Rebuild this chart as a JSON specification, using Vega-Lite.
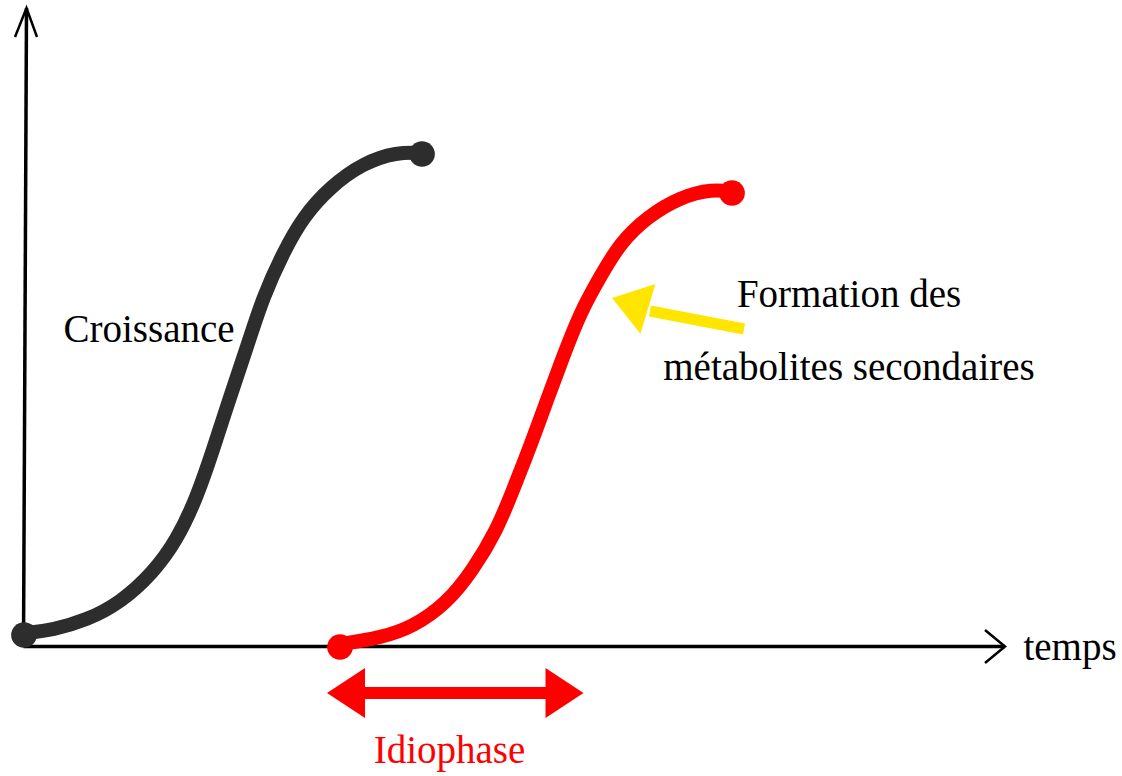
{
  "$schema": "https://vega.github.io/schema/vega-lite/v6.json",
  "width": 1122,
  "height": 776,
  "padding": 0,
  "autosize": {"type": "fit", "contains": "padding"},
  "background": "white",
  "config": {"view": {"stroke": null}},
  "encoding": {
    "x": {"field": "x", "type": "quantitative", "scale": {"domain": [-26, 1096], "nice": false, "zero": false}, "axis": null},
    "y": {"field": "y", "type": "quantitative", "scale": {"domain": [-130, 646], "nice": false, "zero": false}, "axis": null}
  },
  "layer": [
    {
      "data": {"values": [
        {"part": "yaxis", "o": 1, "x": -2.5, "y": 0},
        {"part": "yaxis", "o": 2, "x": 0.5, "y": 638},
        {"part": "xaxis", "o": 1, "x": -2.5, "y": -0.5},
        {"part": "xaxis", "o": 2, "x": 979, "y": -0.5}
      ]},
      "mark": {"type": "line", "color": "black", "strokeWidth": 3.5, "strokeCap": "butt"},
      "encoding": {"detail": {"field": "part"}, "order": {"field": "o"}}
    },
    {
      "data": {"values": [
        {"part": "yhead", "o": 1, "x": -11, "y": 609},
        {"part": "yhead", "o": 2, "x": 0.5, "y": 638},
        {"part": "yhead", "o": 3, "x": 11, "y": 609},
        {"part": "xhead", "o": 1, "x": 959, "y": 16},
        {"part": "xhead", "o": 2, "x": 979, "y": -0.5},
        {"part": "xhead", "o": 3, "x": 959, "y": -17}
      ]},
      "mark": {"type": "line", "color": "black", "strokeWidth": 2.5, "strokeCap": "butt", "strokeJoin": "miter"},
      "encoding": {"detail": {"field": "part"}, "order": {"field": "o"}}
    },
    {
      "data": {"values": [
        {"series": "Croissance", "x": -1, "y": 13},
        {"series": "Croissance", "x": 27, "y": 16},
        {"series": "Croissance", "x": 61, "y": 26},
        {"series": "Croissance", "x": 94, "y": 43},
        {"series": "Croissance", "x": 127, "y": 73},
        {"series": "Croissance", "x": 151, "y": 106},
        {"series": "Croissance", "x": 171, "y": 149},
        {"series": "Croissance", "x": 187, "y": 196},
        {"series": "Croissance", "x": 204, "y": 249},
        {"series": "Croissance", "x": 221, "y": 299},
        {"series": "Croissance", "x": 237, "y": 349},
        {"series": "Croissance", "x": 257, "y": 393},
        {"series": "Croissance", "x": 277, "y": 429},
        {"series": "Croissance", "x": 304, "y": 459},
        {"series": "Croissance", "x": 337, "y": 483},
        {"series": "Croissance", "x": 371, "y": 494},
        {"series": "Croissance", "x": 396, "y": 493},
        {"series": "Métabolites", "x": 315, "y": 2},
        {"series": "Métabolites", "x": 354, "y": 8},
        {"series": "Métabolites", "x": 387, "y": 19},
        {"series": "Métabolites", "x": 421, "y": 43},
        {"series": "Métabolites", "x": 447, "y": 76},
        {"series": "Métabolites", "x": 471, "y": 116},
        {"series": "Métabolites", "x": 487, "y": 156},
        {"series": "Métabolites", "x": 504, "y": 199},
        {"series": "Métabolites", "x": 521, "y": 246},
        {"series": "Métabolites", "x": 537, "y": 289},
        {"series": "Métabolites", "x": 554, "y": 333},
        {"series": "Métabolites", "x": 574, "y": 369},
        {"series": "Métabolites", "x": 594, "y": 403},
        {"series": "Métabolites", "x": 621, "y": 429},
        {"series": "Métabolites", "x": 654, "y": 449},
        {"series": "Métabolites", "x": 687, "y": 457},
        {"series": "Métabolites", "x": 706, "y": 454}
      ]},
      "mark": {"type": "line", "strokeWidth": 14, "strokeCap": "round", "strokeJoin": "round", "interpolate": "basis"},
      "encoding": {
        "color": {"field": "series", "type": "nominal", "scale": {"domain": ["Croissance", "Métabolites"], "range": ["#2d2d2d", "#ff0000"]}, "legend": null}
      }
    },
    {
      "data": {"values": [
        {"series": "Croissance", "x": -2, "y": 11},
        {"series": "Croissance", "x": 396, "y": 492},
        {"series": "Métabolites", "x": 314, "y": -1},
        {"series": "Métabolites", "x": 706, "y": 453}
      ]},
      "mark": {"type": "point", "filled": true, "opacity": 1, "size": 660, "strokeWidth": 0},
      "encoding": {
        "color": {"field": "series", "type": "nominal", "scale": {"domain": ["Croissance", "Métabolites"], "range": ["#2d2d2d", "#ff0000"]}, "legend": null}
      }
    },
    {
      "data": {"values": [{"name": "Idiophase", "x": 334, "y": -47, "x2": 526, "y2": -47}]},
      "mark": {"type": "rule", "color": "#ff0000", "strokeWidth": 12, "strokeCap": "butt"},
      "encoding": {"x2": {"field": "x2"}, "y2": {"field": "y2"}}
    },
    {
      "data": {"values": [
        {"side": "left", "x": 320, "y": -47},
        {"side": "right", "x": 538.5, "y": -47}
      ]},
      "mark": {"type": "point", "filled": true, "opacity": 1, "size": 2500, "color": "#ff0000", "strokeWidth": 0},
      "encoding": {
        "shape": {"field": "side", "type": "nominal", "scale": {"domain": ["left", "right"], "range": ["M-0.76,0L0.76,-1L0.76,1Z", "M0.76,0L-0.76,-1L-0.76,1Z"]}, "legend": null}
      }
    },
    {
      "data": {"values": [{"name": "Formation", "x": 624, "y": 335, "x2": 718, "y2": 317}]},
      "mark": {"type": "rule", "color": "#ffe500", "strokeWidth": 11, "strokeCap": "butt"},
      "encoding": {"x2": {"field": "x2"}, "y2": {"field": "y2"}}
    },
    {
      "data": {"values": [{"name": "Formation", "x": 604, "y": 342.5}]},
      "mark": {"type": "point", "filled": true, "opacity": 1, "size": 2704, "color": "#ffe500", "strokeWidth": 0, "angle": 16.8, "shape": "M-0.72,0L0.72,-1L0.72,1Z"}
    },
    {
      "data": {"values": [
        {"label": "Croissance", "x": 123, "y": 304},
        {"label": "Formation des", "x": 823, "y": 339},
        {"label": "métabolites  secondaires", "x": 823, "y": 266},
        {"label": "temps", "x": 1044, "y": -14}
      ]},
      "mark": {"type": "text", "font": "Liberation Serif", "fontSize": 39, "color": "black", "align": "center", "baseline": "alphabetic"},
      "encoding": {"text": {"field": "label"}}
    },
    {
      "data": {"values": [{"label": "Idiophase", "x": 423.5, "y": -117}]},
      "mark": {"type": "text", "font": "Liberation Serif", "fontSize": 39, "color": "#ff0000", "align": "center", "baseline": "alphabetic"},
      "encoding": {"text": {"field": "label"}}
    }
  ]
}
